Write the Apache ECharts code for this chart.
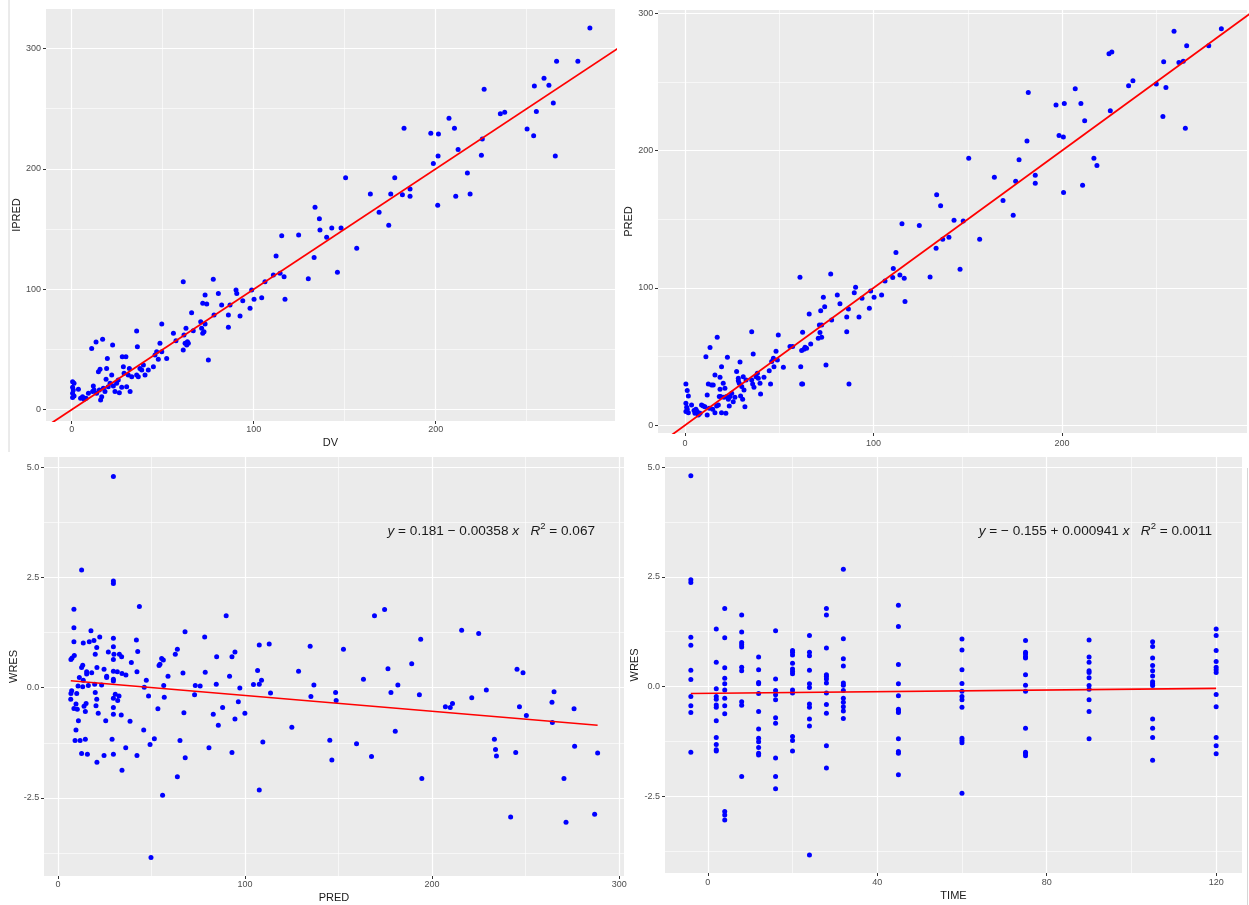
<!DOCTYPE html>
<html>
<head>
<meta charset="utf-8">
<title>Goodness-of-fit plots</title>
<script src="https://cdn.jsdelivr.net/npm/echarts@6/dist/echarts.min.js"></script>
<style>
    html, body { margin: 0; padding: 0; background: #fff; }
    #main { width: 1249px; height: 905px; }
</style>
</head>
<body>
<div id="main"></div>
<script>
// panel 1: DV vs IPRED
var dv1 = [0.5,1.3,0.5,0.9,0.5,1.3,0.5,3.7,4.9,6.0,6.8,7.9,9.2,11.0,11.5,11.9,12.3,13.4,13.7,14.7,
    15.2,15.6,15.9,16.5,17.0,17.4,18.3,18.9,19.2,19.6,20.1,21.1,22.0,22.5,22.9,23.8,24.7,25.6,26.2,27.5,
    27.8,28.4,28.8,29.8,30.2,31.1,31.7,32.1,33.0,35.7,36.1,35.7,36.6,37.5,38.5,39.4,40.3,42.1,44.9,45.8,
    46.7,47.6,48.5,49.5,49.5,52.2,55.9,57.3,61.3,61.3,61.7,62.3,62.8,63.2,63.6,64.1,65.9,66.8,70.9,71.4,
    72.0,72.0,72.7,73.3,73.3,74.2,75.1,77.8,78.2,80.6,82.4,86.1,86.1,87.0,90.3,90.7,92.5,94.0,98.0,98.9,
    100.2,104.4,106.2,110.8,112.3,114.5,115.4,116.7,117.2,124.7,130.0,133.2,133.7,136.1,136.4,140.1,142.9,146.0,148.0,150.5,
    156.6,164.1,168.9,174.2,175.3,177.5,181.7,182.6,185.9,185.9,197.3,198.7,201.1,201.3,201.5,207.3,210.3,211.0,212.3,217.4,
    218.9,225.1,225.6,226.6,235.5,237.9,250.2,253.8,254.2,255.3,259.5,262.2,264.6,265.7,266.4,278.1,284.7];
var ipred1 = [23.3,21.9,18.6,16.3,13.6,11.4,10.2,16.9,9.4,10.8,8.6,9.4,13.6,50.9,15.0,19.7,16.3,56.2,13.6,31.6,
    16.3,33.5,8.0,10.8,58.4,17.7,15.0,25.2,34.3,42.6,19.1,21.9,28.8,53.7,19.7,15.0,21.9,24.6,14.1,18.6,
    44.0,35.7,30.2,44.0,19.1,28.8,34.3,15.0,27.4,65.3,52.3,28.8,27.4,34.3,33.0,37.1,28.8,33.0,35.7,45.4,
    48.2,41.8,55.1,48.2,71.2,42.6,63.4,57.3,106.3,49.6,62.0,55.1,67.6,53.7,56.5,55.1,80.6,65.6,73.1,67.6,
    88.3,63.4,64.8,95.3,71.2,87.8,41.3,108.3,78.6,96.6,86.9,78.6,68.4,86.9,99.4,96.6,77.8,90.5,84.2,99.4,
    91.7,93.0,106.3,111.9,127.6,113.3,144.5,110.5,91.7,145.1,108.8,126.5,168.1,158.6,149.2,143.2,150.9,114.1,150.9,192.7,
    134.0,179.2,163.9,153.1,179.2,192.7,178.6,233.7,183.3,177.2,229.5,204.4,169.7,210.7,229.0,242.0,233.7,177.2,216.0,196.6,
    179.2,211.3,224.8,266.1,245.9,247.0,233.1,227.6,268.9,247.6,275.2,269.4,254.7,210.7,289.4,289.4,317.0];

// panel 2: DV vs PRED
var dv2 = [0.5,1.2,1.8,0.5,0.9,0.5,1.8,1.2,3.5,4.8,5.3,5.8,6.5,7.1,8.0,8.8,9.7,10.6,11.1,11.8,
    11.8,12.4,12.9,13.3,14.1,14.7,15.0,15.9,15.9,16.8,17.1,17.7,18.2,18.6,18.6,18.9,19.4,19.4,20.3,20.7,
    21.2,21.7,22.1,22.5,23.0,23.5,23.9,24.8,25.6,26.5,27.4,28.3,28.3,28.8,29.2,29.5,30.1,30.6,30.9,31.3,
    31.8,32.4,35.4,35.4,35.9,36.2,36.6,37.7,38.4,38.9,39.8,40.1,41.9,44.7,45.4,46.0,46.9,47.2,48.3,49.0,
    49.5,52.2,55.7,57.1,61.0,61.4,61.9,61.9,62.4,62.4,63.1,63.7,64.5,65.9,66.7,70.7,71.3,71.6,72.0,72.5,
    72.5,73.4,74.1,74.8,77.3,77.8,80.8,82.2,85.8,85.8,86.7,87.0,89.8,90.5,92.3,93.9,97.8,98.5,100.3,104.3,
    106.1,110.2,110.5,111.9,114.0,115.1,116.3,116.7,124.3,130.0,133.2,133.5,135.6,136.7,140.0,142.7,145.9,147.6,150.5,156.3,
    164.1,168.7,174.1,175.4,177.2,181.4,182.1,185.8,185.8,196.8,198.4,200.7,200.8,201.2,207.0,210.0,210.9,212.0,216.9,218.5,
    224.9,226.4,225.6,235.3,237.6,250.0,253.5,253.9,255.1,259.4,262.0,264.3,265.4,266.1,277.8,284.5];
var pred2 = [30.1,25.3,21.4,16.0,13.1,10.0,9.2,11.7,14.8,10.7,8.7,11.7,10.0,7.5,8.7,14.8,14.1,13.6,50.0,22.1,
    7.5,30.1,12.4,56.6,29.4,11.7,29.4,36.7,9.2,14.1,64.1,14.8,20.9,26.2,35.0,20.9,42.7,9.2,30.6,20.4,
    27.0,8.7,20.9,49.5,18.9,14.1,20.9,23.3,17.2,20.4,39.1,34.2,32.5,30.6,46.1,21.4,28.2,18.9,35.4,25.7,
    13.6,33.0,68.2,33.0,30.1,52.0,27.7,35.4,37.9,34.2,30.6,22.8,35.0,39.8,30.1,46.4,48.8,42.7,53.9,47.6,
    65.8,42.2,57.3,57.3,107.8,42.7,30.1,54.4,67.7,30.1,55.4,56.8,56.1,81.1,59.2,63.4,73.1,67.5,83.5,73.1,
    64.1,93.2,86.4,43.9,110.2,76.7,94.9,88.6,78.9,68.2,84.7,30.1,96.6,100.5,78.9,92.5,85.2,97.8,93.2,94.9,
    105.1,107.6,114.1,125.8,109.5,146.7,107.1,90.1,145.4,108.0,128.9,167.8,159.8,135.5,136.9,149.3,113.6,148.8,194.5,135.5,
    180.6,163.6,153.0,177.7,193.3,207.1,242.3,182.1,176.3,233.3,211.0,210.0,169.5,234.3,245.0,234.3,174.8,221.7,194.5,189.1,
    270.5,271.9,229.0,247.2,250.8,248.6,224.8,264.7,246.0,287.0,264.2,265.1,216.3,276.3,276.3,288.7];

// panel 3: PRED vs WRES
var pred3 = [6.8,6.9,7.3,6.9,7.5,8.5,8.5,8.5,8.7,8.5,9.1,9.6,9.6,10.0,10.3,10.7,10.9,11.4,11.8,12.6,
    12.6,13.2,13.2,13.5,13.5,13.9,14.6,15.0,14.6,15.3,15.3,15.7,16.2,16.7,17.6,18.0,19.2,19.6,19.9,19.9,
    20.3,20.7,20.7,20.8,20.8,21.5,22.3,23.3,24.6,24.6,25.5,26.0,26.0,26.9,28.9,29.6,29.6,29.6,29.6,29.6,
    29.6,29.9,29.6,29.6,29.6,29.6,29.6,29.6,29.6,12.6,30.6,31.7,31.9,32.6,32.8,33.8,34.0,34.2,34.2,36.3,
    36.2,38.5,39.2,41.9,42.2,42.2,42.6,43.5,45.8,46.1,47.2,48.4,49.2,49.7,51.5,53.4,54.0,54.5,55.4,56.3,
    56.5,56.8,55.9,58.8,62.7,63.8,65.2,66.8,67.3,67.9,68.0,63.8,73.0,73.4,76.0,78.4,78.7,80.7,83.0,84.6,
    84.8,85.7,88.0,89.9,91.7,93.0,93.0,94.6,94.6,96.4,97.2,99.9,104.5,106.7,107.6,107.6,107.6,108.8,109.5,112.9,
    113.6,125.0,128.6,134.8,135.2,136.8,145.3,146.4,148.4,148.7,152.6,159.6,163.3,167.6,169.2,174.6,
    176.4,178.0,180.3,181.7,189.1,193.2,193.9,194.5,207.1,209.7,210.9,215.8,221.2,224.9,229.0,233.3,233.9,234.4,242.0,244.7,
    245.4,246.7,248.6,250.4,264.1,264.3,265.2,270.5,271.6,275.9,276.2,286.9,288.5];
var wres3 = [-0.26,-0.13,-0.07,0.64,0.67,1.78,1.36,1.04,0.73,-0.47,-1.20,-0.96,-0.37,-0.13,-0.49,0.04,-0.75,0.23,-1.20,-1.49,
    0.46,0.51,0.02,1.01,0.17,-0.42,-0.54,-0.36,-1.17,0.36,0.31,-1.51,0.05,1.04,1.29,0.34,1.07,0.08,0.76,-0.11,
    -0.41,-0.26,0.91,0.46,-1.69,-0.58,1.15,0.06,0.42,-1.54,-0.75,0.26,0.23,0.81,-1.17,1.12,0.93,0.64,0.37,0.19,
    0.15,0.76,-0.24,-0.45,-0.60,-1.51,4.79,2.42,2.36,2.67,-0.15,0.36,-0.29,-0.19,0.76,-0.62,0.70,-1.87,0.32,0.29,
    -1.36,-0.76,0.57,1.08,0.36,-1.54,0.82,1.84,-0.96,0.01,0.17,-0.19,-1.29,-3.85,-1.16,-0.48,0.50,0.53,0.66,0.63,
    0.05,-0.22,-2.44,0.26,0.76,0.87,-1.20,0.33,-0.57,1.27,-1.59,-2.02,-0.16,0.05,0.04,1.15,0.35,-1.36,-0.60,0.08,
    0.70,-0.85,-0.45,1.63,0.26,0.70,-1.47,0.81,-0.71,-0.32,-0.01,-0.58,0.07,0.39,0.97,0.08,-2.32,0.17,-1.23,0.99,
    -0.12,-0.90,0.37,0.94,-0.20,0.06,-1.19,-1.64,-0.11,-0.29,0.87,-1.27,0.19,-1.56,1.63,1.77,
    0.43,-0.11,-0.99,0.06,0.54,-0.16,1.10,-2.06,-0.43,-0.45,-0.36,1.30,-0.23,1.23,-0.05,-1.17,-1.40,-1.55,-2.93,-1.47,
    0.42,-0.43,0.34,-0.63,-0.33,-0.79,-0.09,-2.06,-3.05,-0.48,-1.33,-2.87,-1.48];
var fit3 = {a: 0.181, b: -0.00358};

// panel 4: TIME vs WRES, one list per sampling time
var timePoints = [-4, 2, 4, 8, 12, 16, 20, 24, 28, 32, 45, 60, 75, 90, 105, 120];
var wresAtTime = [
    [4.80, 2.43, 2.37, 1.12, 0.94, 0.37, 0.16, -0.23, -0.44, -0.59, -1.50],
    [1.31, 0.55, -0.05, -0.23, -0.29, -0.42, -0.47, -0.78, -1.16, -1.32, -1.44, -1.47],
    [1.78, 1.11, 0.43, 0.19, 0.06, -0.08, -0.27, -0.44, -0.62, -2.85, -2.93, -3.04],
    [1.63, 1.24, 1.00, 0.95, 0.90, 0.44, 0.36, -0.35, -0.43, -2.05],
    [0.67, 0.38, 0.09, 0.06, -0.16, -0.57, -0.97, -1.18, -1.26, -1.39, -1.52, -1.56],
    [1.27, 0.17, -0.09, -0.19, -0.30, -0.71, -0.84, -1.63, -2.05, -2.33],
    [0.82, 0.78, 0.72, 0.53, 0.40, 0.34, 0.29, -0.08, -0.15, -1.14, -1.23, -1.47],
    [1.16, 0.78, 0.70, 0.37, 0.06, -0.02, -0.40, -0.47, -0.74, -0.90, -3.84],
    [1.78, 1.63, 0.88, 0.27, 0.23, 0.17, 0.08, -0.15, -0.41, -0.61, -1.35, -1.86],
    [2.67, 1.09, 0.63, 0.47, 0.08, 0.03, -0.09, -0.27, -0.36, -0.46, -0.56, -0.73],
    [1.85, 1.37, 0.50, 0.06, -0.21, -0.52, -0.56, -0.59, -1.19, -1.48, -1.52, -2.01],
    [1.08, 0.83, 0.38, 0.07, -0.11, -0.23, -0.30, -0.47, -1.18, -1.23, -1.28, -2.43],
    [1.05, 0.78, 0.74, 0.68, 0.65, 0.27, 0.03, -0.11, -0.95, -1.50, -1.53, -1.58],
    [1.06, 0.67, 0.55, 0.36, 0.32, 0.20, 0.02, -0.06, -0.30, -0.57, -1.19],
    [1.02, 0.91, 0.65, 0.48, 0.36, 0.24, 0.11, 0.06, 0.02, -0.74, -0.95, -1.16, -1.68],
    [1.31, 1.16, 0.82, 0.57, 0.44, 0.38, 0.32, -0.18, -0.46, -1.16, -1.35, -1.53]
];
var fit4 = {a: -0.155, b: 0.000941};

// ticks
var concTicks = [0, 100, 200, 300];
var concMinor = [50, 150, 250];
var wresTicks = [-2.5, 0, 2.5, 5];
var wresMinor = [-3.75, -1.25, 1.25, 3.75];
var timeTicks = [0, 40, 80, 120];
var timeMinor = [20, 60, 100];

var FONT = '"Liberation Sans", Arial, sans-serif';

function pairs(xs, ys) {
    var out = [];
    for (var i = 0; i < xs.length; i++) out.push([xs[i], ys[i]]);
    return out;
}

var timeData = [];
for (var t = 0; t < timePoints.length; t++) {
    for (var k = 0; k < wresAtTime[t].length; k++) {
        timeData.push([timePoints[t], wresAtTime[t][k]]);
    }
}

function fitLine(fit, lo, hi) {
    return [[lo, fit.a + fit.b * lo], [hi, fit.a + fit.b * hi]];
}

function axis(gi, min, max, ticks, fmt, name, nameGap, margin) {
    return {
        type: 'value', gridIndex: gi, min: min, max: max,
        name: name, nameLocation: 'middle', nameGap: nameGap,
        nameTextStyle: {color: '#1a1a1a', fontSize: 11, fontFamily: FONT},
        axisLine: {show: false, onZero: false},
        axisTick: {show: true, length: 3, customValues: ticks, lineStyle: {color: '#333', width: 1}},
        axisLabel: {customValues: ticks, formatter: fmt, color: '#4d4d4d', fontSize: 9, fontFamily: FONT, margin: margin},
        splitLine: {show: false},
        minorSplitLine: {show: false}
    };
}

//背景网格线
function gridSeries(gi, xMajor, xMinor, yMajor, yMinor) {
    var d = [];
    xMinor.forEach(function (v) { d.push({xAxis: v, lineStyle: {width: 0.6}}); });
    yMinor.forEach(function (v) { d.push({yAxis: v, lineStyle: {width: 0.6}}); });
    xMajor.forEach(function (v) { d.push({xAxis: v, lineStyle: {width: 1.2}}); });
    yMajor.forEach(function (v) { d.push({yAxis: v, lineStyle: {width: 1.2}}); });
    return {
        type: 'line', xAxisIndex: gi, yAxisIndex: gi, z: 1,
        data: [[xMajor[0], yMajor[0]]], symbol: 'none', lineStyle: {width: 0},
        silent: true,
        markLine: {
            z: 1, silent: true, symbol: 'none', label: {show: false},
            lineStyle: {color: '#ffffff', type: 'solid'},
            emphasis: {disabled: true},
            data: d
        }
    };
}

function points(gi, data) {
    return {
        type: 'scatter', xAxisIndex: gi, yAxisIndex: gi, z: 6,
        data: data, symbolSize: 5, itemStyle: {color: '#0000ff', opacity: 1}, silent: true
    };
}

function redLine(gi, data, w) {
    return {
        type: 'line', xAxisIndex: gi, yAxisIndex: gi, z: 8, clip: true,
        data: data, symbol: 'none', lineStyle: {color: '#ff0000', width: w}, silent: true
    };
}

var fmtInt = function (v) { return String(v); };
var fmtOne = function (v) { return v.toFixed(1); };

var identity = [[-20, -20], [340, 340]];

var minPred = Math.min.apply(null, pred3), maxPred = Math.max.apply(null, pred3);
var minTime = Math.min.apply(null, timePoints), maxTime = Math.max.apply(null, timePoints);

var rich = {
    n: {fontSize: 13.6, fontFamily: FONT, fill: '#1a1a1a'},
    i: {fontSize: 13.6, fontFamily: FONT, fontStyle: 'italic', fill: '#1a1a1a'},
    s: {fontSize: 9.5, fontFamily: FONT, fill: '#1a1a1a', verticalAlign: 'top', lineHeight: 19}
};

var myChart = echarts.init(document.getElementById('main'), null, {renderer: 'canvas'});
var option = {
    animation: false,
    backgroundColor: '#ffffff',
    grid: [
        {left: 46, top: 9, width: 569, height: 412, show: true, backgroundColor: '#ebebeb', borderWidth: 0, outerBoundsMode: 'none'},
        {left: 658, top: 10, width: 589, height: 423, show: true, backgroundColor: '#ebebeb', borderWidth: 0, outerBoundsMode: 'none'},
        {left: 44, top: 457, width: 580, height: 419, show: true, backgroundColor: '#ebebeb', borderWidth: 0, outerBoundsMode: 'none'},
        {left: 665, top: 457, width: 577, height: 416, show: true, backgroundColor: '#ebebeb', borderWidth: 0, outerBoundsMode: 'none'}
    ],
    xAxis: [
        axis(0, -14.1, 298.5, concTicks, fmtInt, 'DV', 16, 4),
        axis(1, -14.3, 298.1, concTicks, fmtInt, '', 16, 6),
        axis(2, -7.5, 302.6, concTicks, fmtInt, 'PRED', 16, 4.5),
        axis(3, -10.1, 126.1, timeTicks, fmtInt, 'TIME', 17, 5.5)
    ],
    yAxis: [
        axis(0, -9.4, 332.8, concTicks, fmtInt, 'IPRED', 21, 5),
        axis(1, -5.6, 302.4, concTicks, fmtInt, 'PRED', 22, 4.7),
        axis(2, -4.27, 5.23, wresTicks, fmtOne, 'WRES', 22.5, 4.7),
        axis(3, -4.25, 5.23, wresTicks, fmtOne, 'WRES', 22.5, 5)
    ],
    graphic: [
        {type: 'line', shape: {x1: 9, y1: 0, x2: 9, y2: 452}, style: {stroke: '#d6d6d6', lineWidth: 1}, silent: true},
        {type: 'line', shape: {x1: 1247.5, y1: 468, x2: 1247.5, y2: 905}, style: {stroke: '#d6d6d6', lineWidth: 1}, silent: true},
        {
            type: 'text', x: 595, y: 531, silent: true, z: 10,
            style: {
                text: '{i|y}{n| = 0.181 − 0.00358 }{i|x}{n|   }{i|R}{s|2}{n| = 0.067}',
                rich: rich, align: 'right', verticalAlign: 'middle'
            }
        },
        {
            type: 'text', x: 1212, y: 531, silent: true, z: 10,
            style: {
                text: '{i|y}{n| = − 0.155 + 0.000941 }{i|x}{n|   }{i|R}{s|2}{n| = 0.0011}',
                rich: rich, align: 'right', verticalAlign: 'middle'
            }
        }
    ],
    series: [
        gridSeries(0, concTicks, concMinor, concTicks, concMinor),
        gridSeries(1, concTicks, concMinor, concTicks, concMinor),
        gridSeries(2, concTicks, concMinor, wresTicks, wresMinor),
        gridSeries(3, timeTicks, timeMinor, wresTicks, wresMinor),
        points(0, pairs(dv1, ipred1)),
        points(1, pairs(dv2, pred2)),
        points(2, pairs(pred3, wres3)),
        points(3, timeData),
        redLine(0, identity, 1.8),
        redLine(1, identity, 1.8),
        redLine(2, fitLine(fit3, minPred, maxPred), 1.6),
        redLine(3, fitLine(fit4, minTime, maxTime), 1.6)
    ]
};
myChart.setOption(option);
</script>
</body>
</html>
